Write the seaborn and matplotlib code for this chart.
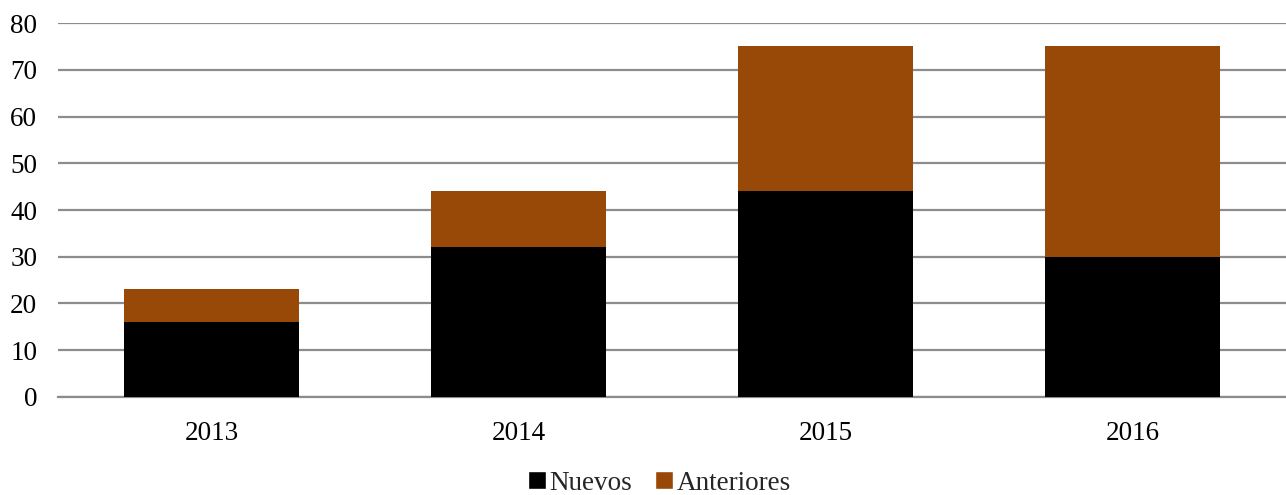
import numpy as np
import pandas as pd
import matplotlib
matplotlib.use("Agg")
import matplotlib.pyplot as plt
import seaborn as sns
from matplotlib.patches import Patch

years = ["2013", "2014", "2015", "2016"]
nuevos = [16, 32, 44, 30]
anteriores = [7, 12, 31, 45]

sns.set_style("white")
plt.rcParams["font.family"] = ["Liberation Serif", "DejaVu Serif"]

df = pd.DataFrame({"year": years, "Nuevos": nuevos, "Anteriores": anteriores})
df["total"] = df["Nuevos"] + df["Anteriores"]

fig = plt.figure(figsize=(12.86, 4.95), dpi=100)
ax = fig.add_axes([0.0451, 0.198, 0.9549, 0.7555])

brown = "#984807"
sns.barplot(data=df, x="year", y="total", color=brown, width=0.573,
            saturation=1, ax=ax, zorder=3, edgecolor="none")
sns.barplot(data=df, x="year", y="Nuevos", color="black", width=0.573,
            saturation=1, ax=ax, zorder=3, edgecolor="none")

ax.set_ylim(0, 80)
ax.set_yticks(range(0, 81, 10))
ax.set_xlim(-0.5, 3.5)
ax.yaxis.grid(True, color="#8c8c8c", linewidth=1.6, zorder=0)
ax.set_axisbelow(True)
for s in ["top", "right", "left"]:
    ax.spines[s].set_visible(False)
ax.spines["bottom"].set_color("#8c8c8c")
ax.spines["bottom"].set_linewidth(1.6)
ax.tick_params(axis="both", length=0, labelsize=19.5, colors="black")
ax.tick_params(axis="y", pad=15)
ax.tick_params(axis="x", pad=17)
ax.set_xlabel("")
ax.set_ylabel("")

handles = [Patch(facecolor="black", label="Nuevos"),
           Patch(facecolor=brown, label="Anteriores")]
fig.legend(handles=handles, loc="center", bbox_to_anchor=(0.513, 0.024),
           ncol=2, frameon=False, fontsize=19.5, handlelength=0.65,
           handleheight=0.65, handletextpad=0.15, columnspacing=0.85)

fig.savefig("out.png", dpi=100)
